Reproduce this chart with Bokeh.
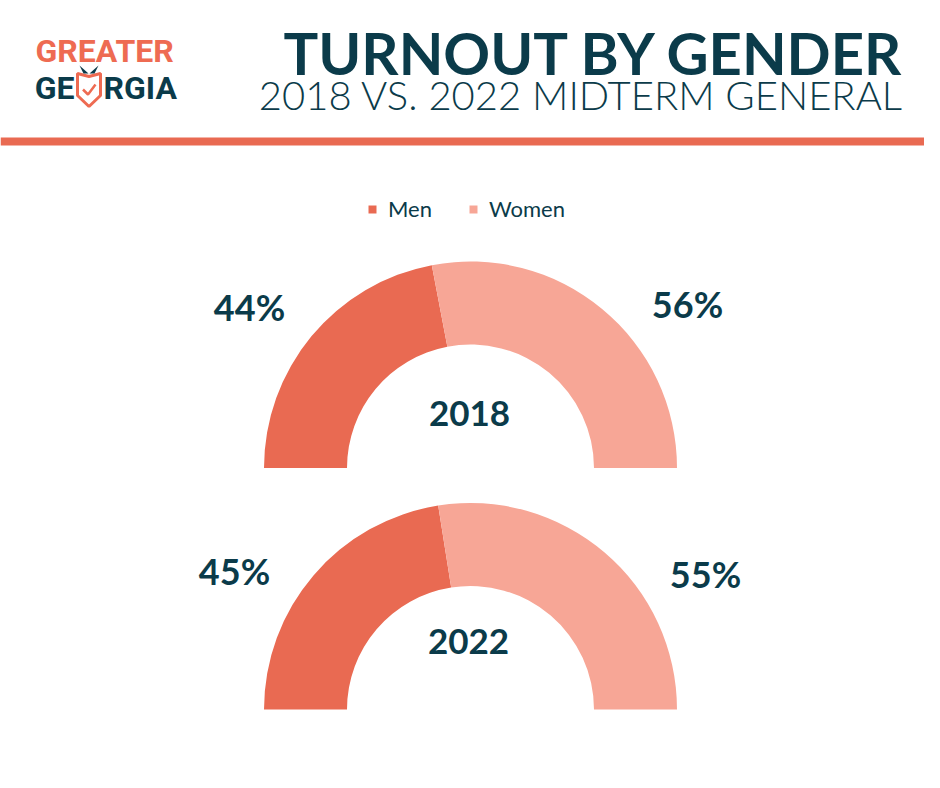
import math
from bokeh.plotting import figure
from bokeh.models import Range1d, ColumnDataSource, Legend, LegendItem
from bokeh.core.properties import value
from bokeh.embed import file_html
from bokeh.resources import INLINE

# ---------------- data ----------------
years = ["2018", "2022"]
men_pct = [44, 45]
women_pct = [56, 55]
series = ["Men", "Women"]
title_text = "TURNOUT BY GENDER"
subtitle_text = "2018 VS. 2022 MIDTERM GENERAL"

# ---------------- style ----------------
TEAL = "#0B3B4A"
MEN_C = "#E96A52"
WOMEN_C = "#F7A696"
LOGO_O = "#EE6B52"
W, H = 924, 772

def Y(yr):  # page-pixel y -> data y
    return H - yr

def TY(baseline, size, k=0.42):  # compensate text vertical placement
    return Y(baseline - k * size)

p = figure(width=W, height=H, output_backend="svg", toolbar_location=None,
           x_range=Range1d(0, W), y_range=Range1d(0, H),
           min_border=0, outline_line_color=None, background_fill_color="white")
p.axis.visible = False
p.grid.visible = False

# donut layout
cx = 470
cy_page = [467.5, 709]
cys = [Y(v) for v in cy_page]
R_OUT, R_IN = 206.5, 123.5

men_src = dict(x=[], y=[], s=[], e=[])
wom_src = dict(x=[], y=[], s=[], e=[])
for i, yr in enumerate(years):
    m = men_pct[i] / (men_pct[i] + women_pct[i])
    split = math.pi * (1 - m)
    men_src["x"].append(cx); men_src["y"].append(cys[i]); men_src["s"].append(split); men_src["e"].append(math.pi)
    wom_src["x"].append(cx); wom_src["y"].append(cys[i]); wom_src["s"].append(0.0); wom_src["e"].append(split)

rm = p.annular_wedge(x="x", y="y", inner_radius=R_IN, outer_radius=R_OUT,
                     start_angle="s", end_angle="e", source=ColumnDataSource(men_src),
                     fill_color=MEN_C, line_color=None)
rw = p.annular_wedge(x="x", y="y", inner_radius=R_IN, outer_radius=R_OUT,
                     start_angle="s", end_angle="e", source=ColumnDataSource(wom_src),
                     fill_color=WOMEN_C, line_color=None)

# percentage labels
PCT_SIZE = 36
lbl = dict(x=[], y=[], t=[])
men_lx, wom_lx = [249, 234], [687, 705]
men_base, wom_base = [323, 587], [320, 590]
for i in range(len(years)):
    lbl["x"] += [men_lx[i], wom_lx[i]]
    lbl["y"] += [TY(men_base[i], PCT_SIZE, 0.45), TY(wom_base[i], PCT_SIZE, 0.45)]
    lbl["t"] += [f"{men_pct[i]}%", f"{women_pct[i]}%"]
p.text(x="x", y="y", text="t", source=ColumnDataSource(lbl), text_align="center",
       text_baseline="alphabetic", text_font=value("Lato"), text_font_style="bold",
       text_font_size=f"{PCT_SIZE}px", text_color=TEAL)

# year labels
YR_SIZE = 35
p.text(x=[469, 468], y=[TY(428, YR_SIZE, 0.44), TY(656, YR_SIZE, 0.44)], text=years,
       text_align="center", text_baseline="alphabetic", text_font=value("Lato"),
       text_font_style="bold", text_font_size=f"{YR_SIZE}px", text_color=TEAL)

# title / subtitle
p.text(x=[905], y=[TY(75, 58, 0.40)], text=[title_text], text_align="right",
       text_baseline="alphabetic", text_font=value("Lato"), text_font_style="bold",
       text_font_size="58px", text_color=TEAL)
p.text(x=[903], y=[TY(111, 40, 0.42)], text=[subtitle_text], text_align="right",
       text_baseline="alphabetic", text_font=value("Lato Light, Lato"),
       text_font_size="40px", text_color=TEAL)

# orange rule
p.segment(x0=[0], x1=[W], y0=[Y(141)], y1=[Y(141)], line_color=MEN_C, line_width=8)

# logo
LOGO_SIZE = 32
p.text(x=[35], y=[TY(64, LOGO_SIZE)], text=["GREATER"], text_align="left",
       text_baseline="alphabetic", text_font=value("Roboto"), text_font_style="bold",
       text_font_size=f"{LOGO_SIZE}px", text_color=LOGO_O)
p.text(x=[74], y=[TY(101, LOGO_SIZE)], text=["GE"], text_align="right",
       text_baseline="alphabetic", text_font=value("Roboto"), text_font_style="bold",
       text_font_size=f"{LOGO_SIZE}px", text_color=TEAL)
p.text(x=[103], y=[TY(101, LOGO_SIZE)], text=["RGIA"], text_align="left",
       text_baseline="alphabetic", text_font=value("Roboto"), text_font_style="bold",
       text_font_size=f"{LOGO_SIZE}px", text_color=TEAL)
sx = [77, 88.5, 100, 100, 88.5, 77]
sy = [Y(v) for v in [73, 76, 73, 95, 106, 95]]
p.patch(sx, sy, fill_color="white", line_color=LOGO_O, line_width=3)
p.line([82.5, 87.5, 95], [Y(89), Y(94), Y(84)], line_color=LOGO_O, line_width=2.5)
p.patch([79, 88, 83], [Y(65), Y(73), Y(73)], fill_color=TEAL, line_color=None)
p.patch([98, 89, 94], [Y(65), Y(73), Y(73)], fill_color=TEAL, line_color=None)

legend = Legend(items=[LegendItem(label=series[0], renderers=[rm]),
                       LegendItem(label=series[1], renderers=[rw])],
                orientation="horizontal", location=(367, 550),
                glyph_width=10, glyph_height=10, label_standoff=11, spacing=36,
                label_text_font="Lato", label_text_font_size="22px",
                label_text_color=TEAL, padding=0, margin=0,
                border_line_color=None, background_fill_alpha=0)
p.add_layout(legend)

open("out.html", "w").write(file_html(p, INLINE))
